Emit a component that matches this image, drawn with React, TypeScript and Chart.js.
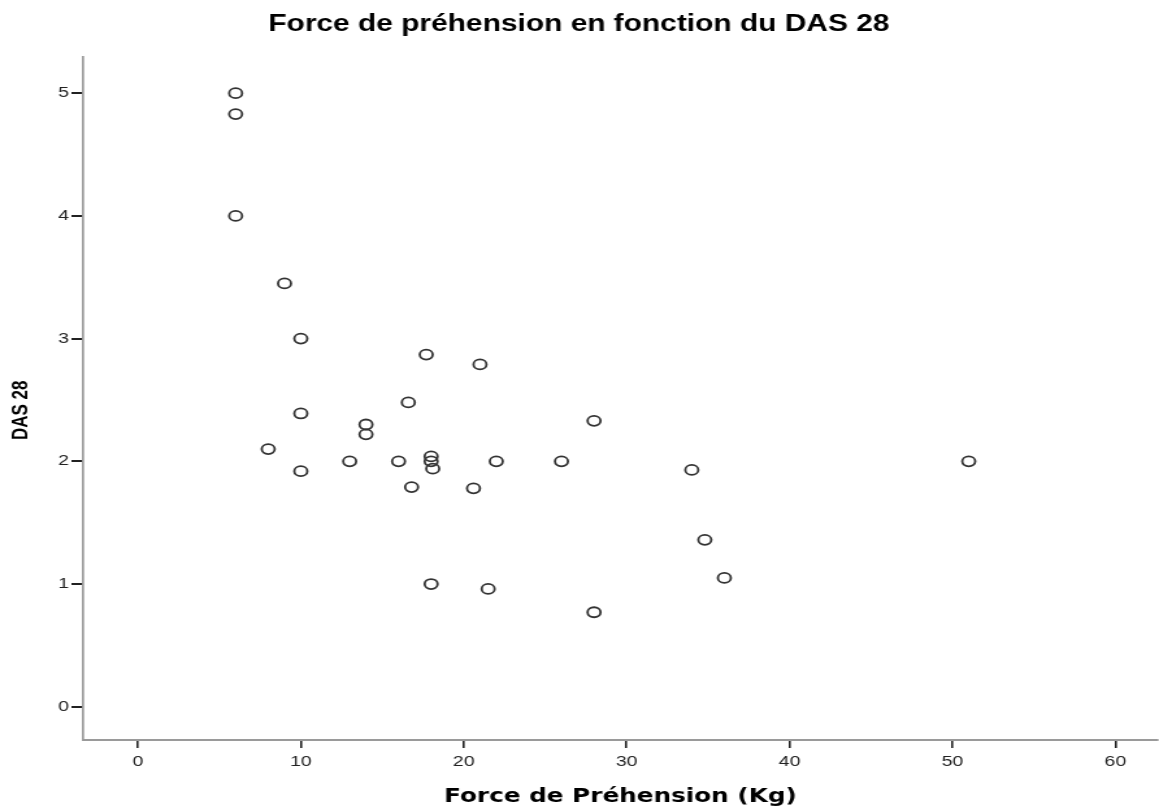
import React, { useEffect, useRef } from "react";
import { Chart, registerables } from "chart.js";

Chart.register(...registerables);

const titleText = "Force de préhension en fonction du DAS 28";
const xAxisLabel = "Force de Préhension (Kg)";
const yAxisLabel = "DAS 28";

const forceKg = [6, 6, 6, 9, 10, 10, 8, 10, 14, 14, 13, 16, 16.6, 17.7, 16.8, 18, 18, 18.1, 18, 21, 20.6, 22, 21.5, 26, 28, 28, 34, 34.8, 36, 51];
const das28 = [5.0, 4.83, 4.0, 3.45, 3.0, 2.39, 2.1, 1.92, 2.3, 2.22, 2.0, 2.0, 2.48, 2.87, 1.79, 2.04, 2.0, 1.94, 1.0, 2.79, 1.78, 2.0, 0.96, 2.0, 2.33, 0.77, 1.93, 1.36, 1.05, 2.0];

const xTicks = [0, 10, 20, 30, 40, 50, 60];
const yTicks = [0, 1, 2, 3, 4, 5];

const CANVAS_W = 892;
const CANVAS_H = 811;
const SCREEN_W = 1159;

export default function App() {
  const ref = useRef<HTMLCanvasElement | null>(null);

  useEffect(() => {
    if (!ref.current) return;
    const points = forceKg.map((x, i) => ({ x, y: das28[i] }));
    const chart = new Chart(ref.current, {
      type: "scatter",
      data: {
        datasets: [
          {
            data: points,
            pointStyle: "circle",
            pointRadius: 5,
            pointHoverRadius: 5,
            pointBorderWidth: 1.8,
            pointBorderColor: "#333333",
            pointBackgroundColor: "rgba(255,255,255,0)",
          },
        ],
      },
      options: {
        responsive: false,
        animation: false,
        devicePixelRatio: 1,
        layout: { autoPadding: false, padding: { left: 0, right: 1, top: 0, bottom: 0 } },
        plugins: {
          legend: { display: false },
          tooltip: { enabled: false },
          title: {
            display: true,
            text: titleText,
            color: "#000",
            font: { family: "'Liberation Sans', Arial, sans-serif", size: 23, weight: "bold" },
            padding: { top: 11, bottom: 18.4 },
          },
        },
        scales: {
          x: {
            type: "linear",
            min: -3.36,
            max: 62.6,
            afterFit: (s: any) => {
              s.height = 71;
            },
            afterBuildTicks: (s: any) => {
              s.ticks = xTicks.map((v) => ({ value: v }));
            },
            grid: {
              display: true,
              drawOnChartArea: false,
              drawTicks: true,
              tickLength: 8,
              tickColor: "#222",
              tickWidth: 1.6,
              color: "#222",
              lineWidth: 1.6,
            },
            border: { display: true, color: "#9a9a9a", width: 2 },
            ticks: {
              color: "#222",
              padding: 5,
              maxRotation: 0,
              autoSkip: false,
              font: { family: "'Liberation Sans', Arial, sans-serif", size: 15 },
            },
            title: {
              display: true,
              text: xAxisLabel,
              color: "#000",
              font: { family: "'DejaVu Sans', Verdana, sans-serif", size: 19, weight: "bold" },
              padding: { top: 0, bottom: 3 },
            },
          },
          y: {
            type: "linear",
            min: -0.271,
            max: 5.295,
            afterFit: (s: any) => {
              s.width = 64;
            },
            afterBuildTicks: (s: any) => {
              s.ticks = yTicks.map((v) => ({ value: v }));
            },
            grid: {
              display: true,
              drawOnChartArea: false,
              drawTicks: true,
              tickLength: 9,
              tickColor: "#222",
              tickWidth: 2,
              color: "#222",
              lineWidth: 2,
            },
            border: { display: true, color: "#9a9a9a", width: 1.7 },
            ticks: {
              color: "#222",
              padding: 2,
              autoSkip: false,
              font: { family: "'Liberation Sans', Arial, sans-serif", size: 15 },
            },
            title: {
              display: true,
              text: yAxisLabel + "     ",
              color: "#000",
              font: { family: "'Liberation Sans', Arial, sans-serif", size: 17, weight: "bold" },
              padding: { top: 6, bottom: 0 },
            },
          },
        },
      },
    });
    return () => chart.destroy();
  }, []);

  return (
    <div style={{ position: "fixed", left: 0, top: 0, width: SCREEN_W, height: CANVAS_H, background: "#fff" }}>
      <canvas
        ref={ref}
        width={CANVAS_W}
        height={CANVAS_H}
        style={{ display: "block", width: SCREEN_W + "px", height: CANVAS_H + "px" }}
      />
    </div>
  );
}
